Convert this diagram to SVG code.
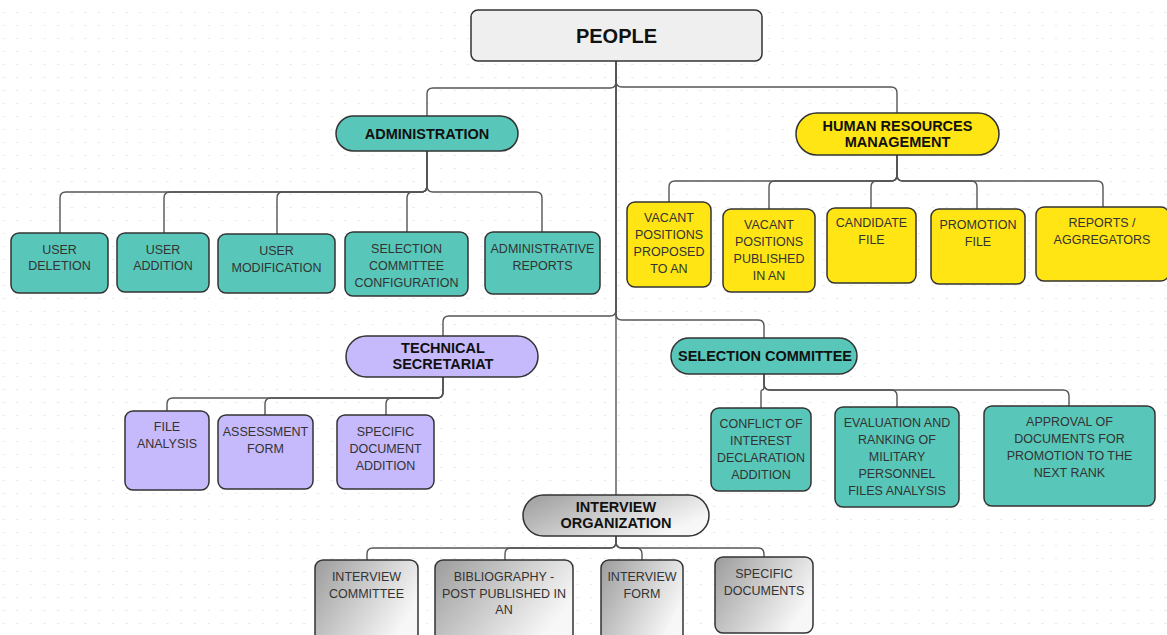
<svg xmlns="http://www.w3.org/2000/svg" width="1167" height="635" viewBox="0 0 1167 635">
<defs>
<pattern id="dots" x="0" y="0" width="13.67" height="13" patternUnits="userSpaceOnUse">
<rect x="2.5" y="12" width="2" height="2" fill="#e4e4ea"/>
</pattern>
<linearGradient id="grayG" x1="0" y1="0" x2="1" y2="0.5">
<stop offset="0" stop-color="#9c9c9c"/>
<stop offset="1" stop-color="#f7f7f7"/>
</linearGradient>
<style>
.conn{fill:none;stroke:#555;stroke-width:1.4}
.box{stroke:#333;stroke-width:1.5}
.teal{fill:#58c7b9}
.yel{fill:#ffe514}
.lav{fill:#c6b9fc}
.gray{fill:url(#grayG)}
.hd{font-family:"Liberation Sans",Arial,sans-serif;font-weight:bold;font-size:14.5px;fill:#111;text-anchor:middle}
.tx{font-family:"Liberation Sans",Arial,sans-serif;font-size:12.5px;fill:#333;text-anchor:middle}
</style>
</defs>
<rect width="1167" height="635" fill="#ffffff"/>
<rect width="1167" height="635" fill="url(#dots)"/>

<g id="connectors">
<path class="conn" d="M616 61 V495"/>
<path class="conn" d="M616 61 V82 Q616 88 610 88 H433 Q427 88 427 94 V116"/>
<path class="conn" d="M616 61 V81 Q616 87 622 87 H891 Q897 87 897 93 V113"/>
<path class="conn" d="M616 61 V310 Q616 316 610 316 H449 Q443 316 443 322 V336"/>
<path class="conn" d="M616 61 V314 Q616 320 622 320 H758 Q764 320 764 326 V338"/>

<path class="conn" d="M427 151 V186 Q427 192 421 192 H66 Q60 192 60 198 V233"/>
<path class="conn" d="M427 151 V186 Q427 192 421 192 H170 Q164 192 164 198 V233"/>
<path class="conn" d="M427 151 V186 Q427 192 421 192 H283 Q277 192 277 198 V234"/>
<path class="conn" d="M427 151 V186 Q427 192 421 192 H413 Q407 192 407 198 V232"/>
<path class="conn" d="M427 151 V186 Q427 192 433 192 H536 Q542 192 542 198 V232"/>

<path class="conn" d="M897 155 V175 Q897 181 891 181 H675 Q669 181 669 187 V202"/>
<path class="conn" d="M897 155 V175 Q897 181 891 181 H775 Q769 181 769 187 V209"/>
<path class="conn" d="M897 155 V175 Q897 181 891 181 H877 Q871 181 871 187 V208"/>
<path class="conn" d="M897 155 V175 Q897 181 903 181 H971 Q977 181 977 187 V209"/>
<path class="conn" d="M897 155 V175 Q897 181 903 181 H1097 Q1103 181 1103 187 V207"/>

<path class="conn" d="M443 377 V392 Q443 398 437 398 H173 Q167 398 167 404 V411"/>
<path class="conn" d="M443 377 V392 Q443 398 437 398 H271 Q265 398 265 404 V415"/>
<path class="conn" d="M443 377 V392 Q443 398 437 398 H392 Q386 398 386 404 V415"/>

<path class="conn" d="M764 374 V386 Q764 390 762 390 Q761 390 761 392 V408"/>
<path class="conn" d="M764 374 V384 Q764 390 770 390 H891 Q897 390 897 396 V407"/>
<path class="conn" d="M764 374 V384 Q764 390 770 390 H1063 Q1069 390 1069 396 V406"/>

<path class="conn" d="M616 536 V542 Q616 548 610 548 H373 Q367 548 367 554 V560"/>
<path class="conn" d="M616 536 V542 Q616 548 610 548 H511 Q505 548 505 554 V560"/>
<path class="conn" d="M616 536 V542 Q616 548 622 548 H636 Q642 548 642 554 V560"/>
<path class="conn" d="M616 536 V542 Q616 548 622 548 H758 Q764 548 764 554 V557"/>
</g>

<g id="people">
<rect class="box" x="471" y="10" width="291" height="51" rx="7" fill="#efefef"/>
<text x="616.5" y="43" font-family="Liberation Sans,Arial,sans-serif" font-weight="bold" font-size="20" fill="#111" text-anchor="middle">PEOPLE</text>
</g>

<g id="administration">
<rect class="box teal" x="336" y="116" width="182" height="35" rx="17.5"/>
<text class="hd" x="427" y="139">ADMINISTRATION</text>
</g>
<g id="user-deletion">
<rect class="box teal" x="11" y="233" width="97" height="60" rx="8"/>
<text class="tx" x="59.5" y="254">USER</text>
<text class="tx" x="59.5" y="270">DELETION</text>
</g>
<g id="user-addition">
<rect class="box teal" x="117" y="233" width="92" height="59" rx="8"/>
<text class="tx" x="163" y="254">USER</text>
<text class="tx" x="163" y="270">ADDITION</text>
</g>
<g id="user-modification">
<rect class="box teal" x="218" y="234" width="117" height="59" rx="8"/>
<text class="tx" x="276.5" y="255">USER</text>
<text class="tx" x="276.5" y="272">MODIFICATION</text>
</g>
<g id="selection-committee-configuration">
<rect class="box teal" x="345" y="232" width="123" height="64" rx="8"/>
<text class="tx" x="406.5" y="253">SELECTION</text>
<text class="tx" x="406.5" y="270">COMMITTEE</text>
<text class="tx" x="406.5" y="287">CONFIGURATION</text>
</g>
<g id="administrative-reports">
<rect class="box teal" x="485" y="232" width="115" height="62" rx="8"/>
<text class="tx" x="542.5" y="253">ADMINISTRATIVE</text>
<text class="tx" x="542.5" y="270">REPORTS</text>
</g>

<g id="hr-management">
<rect class="box yel" x="796" y="113" width="203" height="42" rx="21"/>
<text class="hd" x="897.5" y="131">HUMAN RESOURCES</text>
<text class="hd" x="897.5" y="147">MANAGEMENT</text>
</g>
<g id="vacant-proposed">
<rect class="box yel" x="627" y="202" width="84" height="85" rx="8"/>
<text class="tx" x="669" y="222">VACANT</text>
<text class="tx" x="669" y="239">POSITIONS</text>
<text class="tx" x="669" y="256">PROPOSED</text>
<text class="tx" x="669" y="273">TO AN</text>
</g>
<g id="vacant-published">
<rect class="box yel" x="723" y="209" width="92" height="83" rx="8"/>
<text class="tx" x="769" y="229">VACANT</text>
<text class="tx" x="769" y="246">POSITIONS</text>
<text class="tx" x="769" y="263">PUBLISHED</text>
<text class="tx" x="769" y="280">IN AN</text>
</g>
<g id="candidate-file">
<rect class="box yel" x="827" y="208" width="89" height="75" rx="8"/>
<text class="tx" x="871.5" y="227">CANDIDATE</text>
<text class="tx" x="871.5" y="244">FILE</text>
</g>
<g id="promotion-file">
<rect class="box yel" x="931" y="209" width="94" height="75" rx="8"/>
<text class="tx" x="978" y="229">PROMOTION</text>
<text class="tx" x="978" y="246">FILE</text>
</g>
<g id="reports-aggregators">
<rect class="box yel" x="1036" y="207" width="133" height="74" rx="8"/>
<text class="tx" x="1102" y="227">REPORTS /</text>
<text class="tx" x="1102" y="244">AGGREGATORS</text>
</g>

<g id="technical-secretariat">
<rect class="box lav" x="346" y="336" width="192" height="41" rx="20.5"/>
<text class="hd" x="443" y="353">TECHNICAL</text>
<text class="hd" x="443" y="369">SECRETARIAT</text>
</g>
<g id="file-analysis">
<rect class="box lav" x="125" y="411" width="84" height="79" rx="8"/>
<text class="tx" x="167" y="431">FILE</text>
<text class="tx" x="167" y="448">ANALYSIS</text>
</g>
<g id="assessment-form">
<rect class="box lav" x="218" y="415" width="95" height="74" rx="8"/>
<text class="tx" x="265.5" y="436">ASSESSMENT</text>
<text class="tx" x="265.5" y="453">FORM</text>
</g>
<g id="specific-document-addition">
<rect class="box lav" x="337" y="415" width="97" height="74" rx="8"/>
<text class="tx" x="385.5" y="436">SPECIFIC</text>
<text class="tx" x="385.5" y="453">DOCUMENT</text>
<text class="tx" x="385.5" y="470">ADDITION</text>
</g>

<g id="selection-committee">
<rect class="box teal" x="671" y="338" width="186" height="36" rx="18"/>
<text class="hd" x="765" y="361" font-size="15.5">SELECTION COMMITTEE</text>
</g>
<g id="conflict-of-interest">
<rect class="box teal" x="711" y="408" width="100" height="83" rx="8"/>
<text class="tx" x="761" y="428">CONFLICT OF</text>
<text class="tx" x="761" y="445">INTEREST</text>
<text class="tx" x="761" y="462">DECLARATION</text>
<text class="tx" x="761" y="479">ADDITION</text>
</g>
<g id="evaluation-ranking">
<rect class="box teal" x="835" y="407" width="124" height="100" rx="8"/>
<text class="tx" x="897" y="427">EVALUATION AND</text>
<text class="tx" x="897" y="444">RANKING OF</text>
<text class="tx" x="897" y="461">MILITARY</text>
<text class="tx" x="897" y="478">PERSONNEL</text>
<text class="tx" x="897" y="495">FILES ANALYSIS</text>
</g>
<g id="approval-documents">
<rect class="box teal" x="984" y="406" width="171" height="100" rx="8"/>
<text class="tx" x="1069.5" y="426">APPROVAL OF</text>
<text class="tx" x="1069.5" y="443">DOCUMENTS FOR</text>
<text class="tx" x="1069.5" y="460">PROMOTION TO THE</text>
<text class="tx" x="1069.5" y="477">NEXT RANK</text>
</g>

<g id="interview-organization">
<rect class="box gray" x="523" y="495" width="186" height="41" rx="20.5"/>
<text class="hd" x="616" y="512">INTERVIEW</text>
<text class="hd" x="616" y="528">ORGANIZATION</text>
</g>
<g id="interview-committee">
<rect class="box gray" x="315" y="560" width="103" height="82" rx="8"/>
<text class="tx" x="366.5" y="581">INTERVIEW</text>
<text class="tx" x="366.5" y="598">COMMITTEE</text>
</g>
<g id="bibliography">
<rect class="box gray" x="435" y="560" width="138" height="82" rx="8"/>
<text class="tx" x="504" y="581">BIBLIOGRAPHY -</text>
<text class="tx" x="504" y="598">POST PUBLISHED IN</text>
<text class="tx" x="504" y="614">AN</text>
</g>
<g id="interview-form">
<rect class="box gray" x="601" y="560" width="82" height="82" rx="8"/>
<text class="tx" x="642" y="581">INTERVIEW</text>
<text class="tx" x="642" y="598">FORM</text>
</g>
<g id="specific-documents">
<rect class="box gray" x="715" y="557" width="98" height="76" rx="8"/>
<text class="tx" x="764" y="578">SPECIFIC</text>
<text class="tx" x="764" y="595">DOCUMENTS</text>
</g>
</svg>
